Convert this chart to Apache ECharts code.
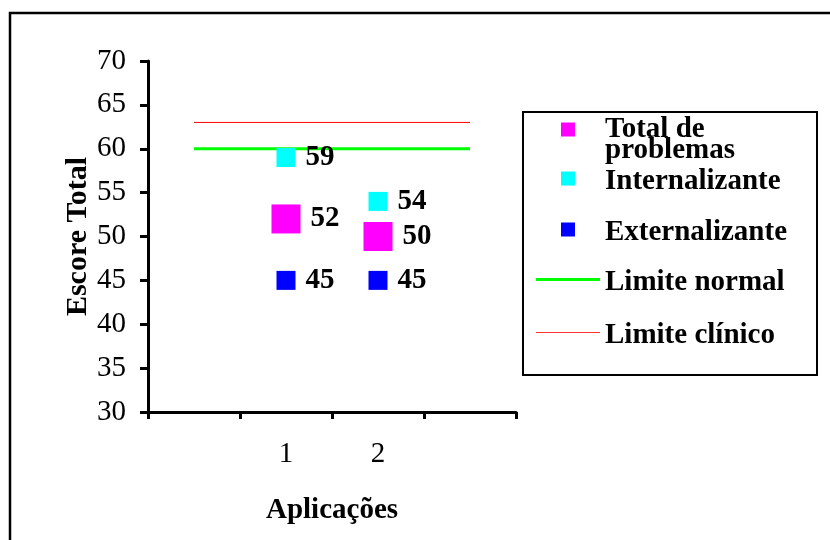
<!DOCTYPE html>
<html>
<head>
<meta charset="utf-8">
<script src="https://cdn.jsdelivr.net/npm/echarts@6/dist/echarts.min.js"></script>
<style>
  html, body { margin: 0; padding: 0; background: #ffffff; }
  #chart { width: 830px; height: 540px; }
</style>
</head>
<body>
<div id="chart"></div>
<script>
// Category slots on the x axis: two applications framed by blank slots
const categories = ['', '1', '2', ' '];
// Scores per application ('-' marks an empty slot)
const totalProblemas = ['-', 52, 50, '-'];
const internalizante = ['-', 59, 54, '-'];
const externalizante = ['-', 45, 45, '-'];
// Reference limits drawn across the whole axis
const limiteNormal = [60, 60, 60, 60];
const limiteClinico = [63, 63, 63, 63];
// Y axis range
const yMin = 30, yMax = 70, yStep = 5;

const FONT = 'Liberation Serif';
const FS = 29;
const chart = echarts.init(document.getElementById('chart'));

const boldText = { fontFamily: FONT, fontWeight: 'bold', fontSize: FS, color: '#000' };

function pointLabel() {
  return { show: true, position: 'right', distance: 10, ...boldText };
}

// One legend block per entry so each row sits at its own height
function legendFor(name, left, top, iconW, iconH, padLeft) {
  return {
    data: [{ name: name, icon: 'rect' }],
    left: left, top: top, padding: 0,
    itemWidth: iconW, itemHeight: iconH,
    selectedMode: false,
    formatter: (n) => '{a|' + n + '}',
    textStyle: {
      fontFamily: FONT, fontWeight: 'bold', fontSize: FS, color: '#000',
      rich: { a: { fontFamily: FONT, fontWeight: 'bold', fontSize: FS, color: '#000',
                   lineHeight: 28, padding: [6, 0, 0, padLeft] } }
    }
  };
}

chart.setOption({
  backgroundColor: '#ffffff',
  animation: false,
  graphic: [
    { type: 'rect', shape: { x: 10, y: 13, width: 840, height: 560 }, style: { fill: 'none', stroke: '#000', lineWidth: 2.5 }, z: -1 },
    { type: 'rect', shape: { x: 523, y: 112, width: 294, height: 263 }, style: { fill: '#fff', stroke: '#000', lineWidth: 2 }, z: -1 }
  ],
  legend: [
    {
      data: [{ name: 'Total de problemas', icon: 'rect' }],
      left: 561, top: 94, padding: 0,
      itemWidth: 14, itemHeight: 14,
      selectedMode: false,
      formatter: () => '\nTotal de\nproblemas',
      textStyle: { fontFamily: FONT, fontWeight: 'bold', fontSize: FS, color: '#000',
                   lineHeight: 21, padding: [0, 0, 0, 25] }
    },
    legendFor('Internalizante', 561, 161, 14, 14, 25),
    legendFor('Externalizante', 561, 212, 14, 14, 25),
    legendFor('Limite normal', 536, 262, 64, 3, 0),
    legendFor('Limite clínico', 536, 315, 64, 1, 0)
  ],
  grid: { left: 148, right: 314, top: 61, bottom: 128 },
  xAxis: {
    type: 'category',
    data: categories,
    boundaryGap: true,
    name: 'Aplicações',
    nameLocation: 'middle',
    nameGap: 84,
    nameTextStyle: boldText,
    axisLine: { lineStyle: { color: '#000', width: 3 } },
    axisTick: { show: true, length: 7, lineStyle: { color: '#000', width: 3 }, interval: 0 },
    axisLabel: { interval: 0, margin: 28, fontFamily: FONT, fontSize: FS, color: '#000' },
    splitLine: { show: false }
  },
  yAxis: {
    type: 'value',
    min: yMin, max: yMax, interval: yStep,
    name: 'Escore Total',
    nameLocation: 'middle',
    nameGap: 52,
    nameTextStyle: Object.assign({}, boldText, { fontSize: 30 }),
    axisLine: { show: true, lineStyle: { color: '#000', width: 3 } },
    axisTick: { show: true, length: 8, lineStyle: { color: '#000', width: 3 } },
    axisLabel: { margin: 22, fontFamily: FONT, fontSize: FS, color: '#000' },
    splitLine: { show: false }
  },
  series: [
    { name: 'Limite normal', type: 'line', data: limiteNormal, symbol: 'none',
      lineStyle: { color: '#00ff00', width: 3 }, itemStyle: { color: '#00ff00' }, z: 1 },
    { name: 'Limite clínico', type: 'line', data: limiteClinico, symbol: 'none',
      lineStyle: { color: '#ff0000', width: 1 }, itemStyle: { color: '#ff3333' }, z: 1 },
    { name: 'Total de problemas', type: 'scatter', data: totalProblemas, symbol: 'rect', symbolSize: 29,
      itemStyle: { color: '#ff00ff', opacity: 1 }, label: pointLabel(), z: 3 },
    { name: 'Internalizante', type: 'scatter', data: internalizante, symbol: 'rect', symbolSize: 19,
      itemStyle: { color: '#00ffff', opacity: 1 }, label: pointLabel(), z: 3 },
    { name: 'Externalizante', type: 'scatter', data: externalizante, symbol: 'rect', symbolSize: 19,
      itemStyle: { color: '#0000ff', opacity: 1 }, label: pointLabel(), z: 3 }
  ]
});
</script>
</body>
</html>
